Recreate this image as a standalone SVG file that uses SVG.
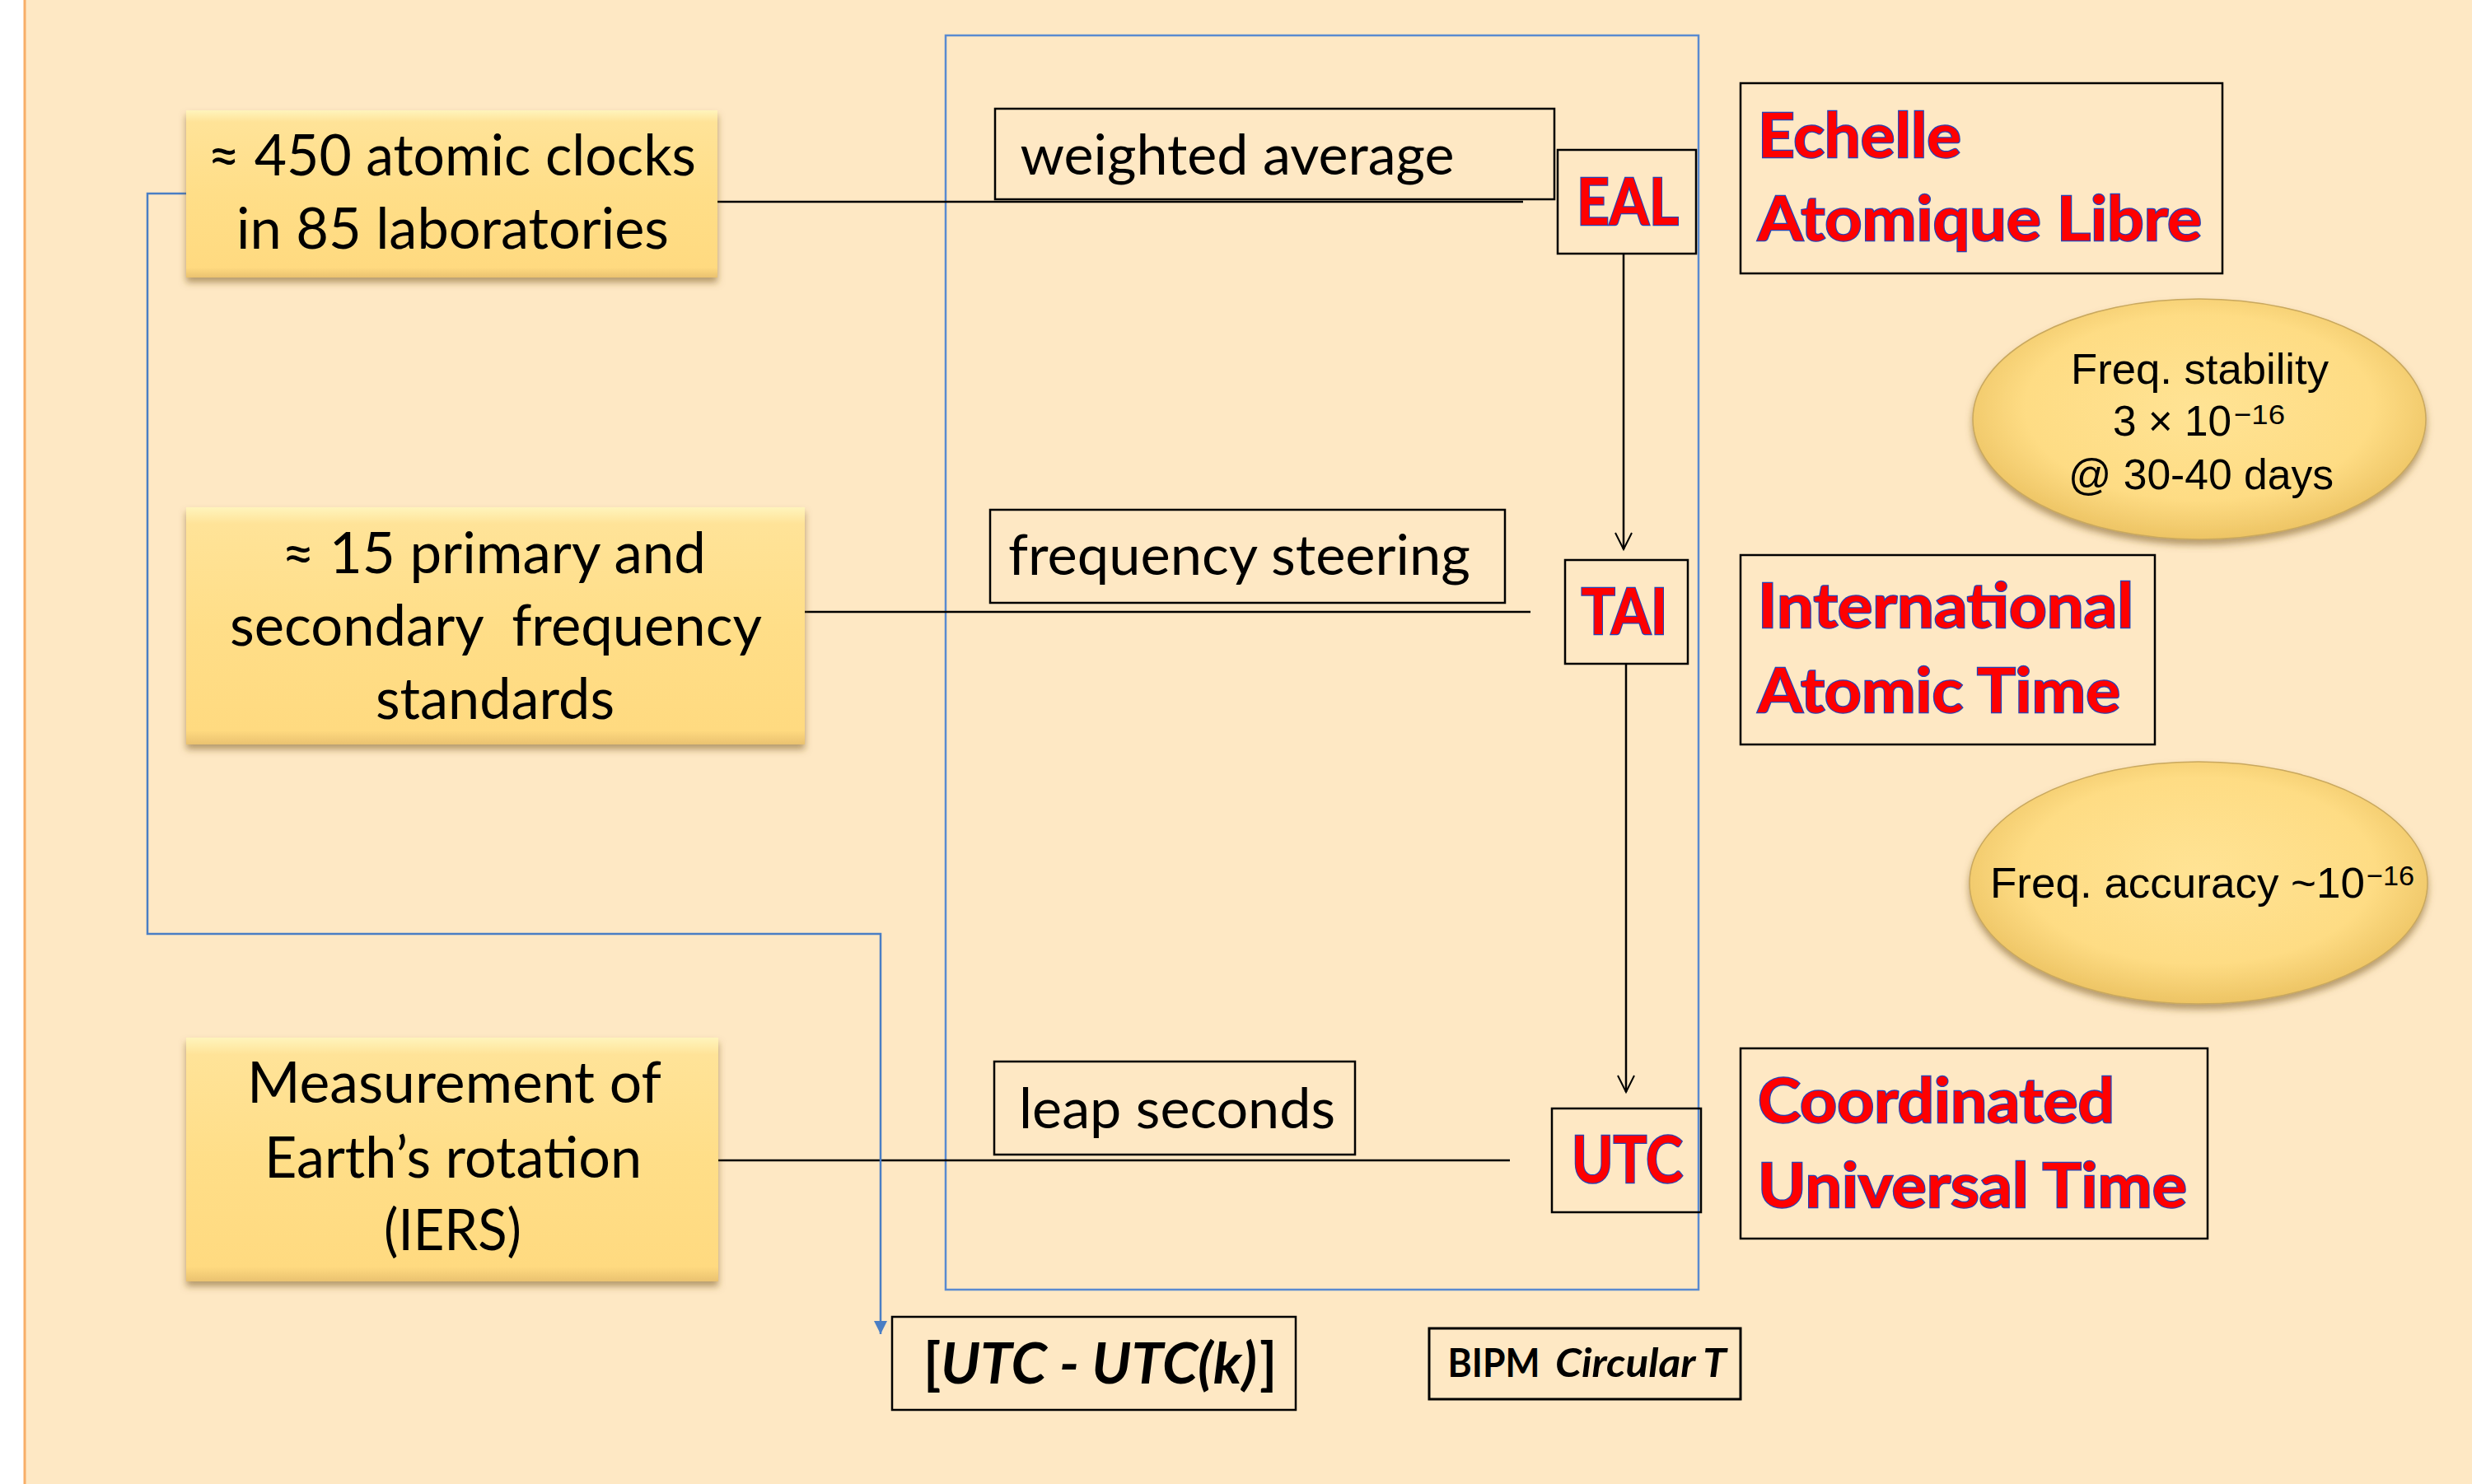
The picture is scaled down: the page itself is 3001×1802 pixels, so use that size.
<svg xmlns="http://www.w3.org/2000/svg" width="3001" height="1802" viewBox="0 0 3001 1802">
<defs>
<style>
.lbl{font-family:Lato,"Liberation Sans",sans-serif;fill:#000;}
.box{font-size:70px;}
.step{font-size:68px;}
.red{font-family:Lato,"Liberation Sans",sans-serif;font-weight:bold;fill:#FF0000;stroke:#2443B8;stroke-width:2.5;paint-order:stroke;}
.ell{font-family:"Liberation Sans",Arial,sans-serif;font-size:52px;fill:#000;}
.sup{font-family:"Liberation Sans",Arial,sans-serif;font-size:34px;fill:#000;}
.frame{fill:none;stroke:#000;stroke-width:2.5;}
.conn{fill:none;stroke:#000;stroke-width:2.5;}
.blue{fill:none;stroke:#4A7EC4;stroke-width:2.5;}
.ybox{fill:url(#yg);filter:url(#sh);}
</style>
<linearGradient id="yg" x1="0" y1="0" x2="0" y2="1">
<stop offset="0" stop-color="#FFF4BC"/>
<stop offset="0.07" stop-color="#FFE398"/>
<stop offset="0.5" stop-color="#FFDE88"/>
<stop offset="0.94" stop-color="#FFDA80"/>
<stop offset="1" stop-color="#EAC270"/>
</linearGradient>
<radialGradient id="eg" cx="0.5" cy="0.45" r="0.55">
<stop offset="0" stop-color="#FFE394"/>
<stop offset="0.7" stop-color="#FEDC84"/>
<stop offset="1" stop-color="#EDC464"/>
</radialGradient>
<filter id="sh" x="-10%" y="-10%" width="120%" height="130%">
<feDropShadow dx="0" dy="6" stdDeviation="4" flood-color="#7A5A20" flood-opacity="0.55"/>
</filter>
<marker id="open" markerUnits="userSpaceOnUse" markerWidth="24" markerHeight="24" refX="20" refY="12" orient="auto" overflow="visible">
<path d="M0,2 L20,12 L0,22" fill="none" stroke="#000" stroke-width="2"/>
</marker>
<marker id="bfill" markerUnits="userSpaceOnUse" markerWidth="18" markerHeight="18" refX="16" refY="8" orient="auto" overflow="visible">
<path d="M0,0 L16,8 L0,16 z" fill="#4A7EC4"/>
</marker>
</defs>

<rect x="0" y="0" width="3001" height="1802" fill="#FFFFFF"/>
<rect x="30" y="0" width="2971" height="1802" fill="#FEE8C4"/>
<line x1="30" y1="0" x2="30" y2="1802" stroke="#F7AE68" stroke-width="3"/>

<g id="bipm-container">
<rect x="1148" y="43" width="914" height="1523" fill="none" stroke="#5A8AD0" stroke-width="2.5"/>
</g>

<g id="connectors">
<path class="conn" d="M871,245 H1849"/>
<path class="conn" d="M977,743 H1858"/>
<path class="conn" d="M872,1409 H1833"/>
<path class="conn" d="M1971,308 V667" marker-end="url(#open)"/>
<path class="conn" d="M1974,806 V1326" marker-end="url(#open)"/>
<path class="blue" d="M226,235 H179 V1134 H1069 V1620" marker-end="url(#bfill)"/>
</g>

<g id="atomic-clocks">
<rect class="ybox" x="226" y="134" width="645" height="203"/>
<text class="lbl box" x="548.5" y="213" text-anchor="middle" textLength="593" lengthAdjust="spacingAndGlyphs">≈ 450 atomic clocks</text>
<text class="lbl box" x="549.5" y="302" text-anchor="middle" textLength="525" lengthAdjust="spacingAndGlyphs">in 85 laboratories</text>
</g>

<g id="frequency-standards">
<rect class="ybox" x="226" y="616" width="751" height="288"/>
<text class="lbl box" x="599.5" y="696" text-anchor="middle" textLength="515" lengthAdjust="spacingAndGlyphs">≈ 15 primary and</text>
<text class="lbl box" x="602" y="784" text-anchor="middle" textLength="646" lengthAdjust="spacingAndGlyphs" xml:space="preserve">secondary  frequency</text>
<text class="lbl box" x="601" y="873" text-anchor="middle" textLength="290" lengthAdjust="spacingAndGlyphs">standards</text>
</g>

<g id="earth-rotation">
<rect class="ybox" x="226" y="1260" width="646" height="296"/>
<text class="lbl box" x="551.5" y="1339" text-anchor="middle" textLength="503" lengthAdjust="spacingAndGlyphs">Measurement of</text>
<text class="lbl box" x="550" y="1430" text-anchor="middle" textLength="458" lengthAdjust="spacingAndGlyphs">Earth’s rotation</text>
<text class="lbl box" x="549.5" y="1518" text-anchor="middle" textLength="167" lengthAdjust="spacingAndGlyphs">(IERS)</text>
</g>

<g id="weighted-average">
<rect class="frame" x="1208" y="132" width="679" height="110"/>
<text class="lbl step" x="1238.5" y="212" textLength="527" lengthAdjust="spacingAndGlyphs">weighted average</text>
</g>

<g id="frequency-steering">
<rect class="frame" x="1202" y="619" width="625" height="113"/>
<text class="lbl step" x="1224" y="698" textLength="561" lengthAdjust="spacingAndGlyphs">frequency steering</text>
</g>

<g id="leap-seconds">
<rect class="frame" x="1207" y="1289" width="438" height="113"/>
<text class="lbl step" x="1237" y="1370" textLength="384" lengthAdjust="spacingAndGlyphs">leap seconds</text>
</g>

<g id="eal">
<rect class="frame" x="1891" y="182" width="168" height="126"/>
<text class="red" x="1914" y="273" font-size="78" textLength="124" lengthAdjust="spacingAndGlyphs">EAL</text>
</g>

<g id="tai">
<rect class="frame" x="1900" y="680" width="149" height="126"/>
<text class="red" x="1919.5" y="770" font-size="77" textLength="105" lengthAdjust="spacingAndGlyphs">TAI</text>
</g>

<g id="utc">
<rect class="frame" x="1884" y="1346" width="181" height="126"/>
<text class="red" x="1908" y="1436" font-size="78" textLength="135" lengthAdjust="spacingAndGlyphs">UTC</text>
</g>

<g id="eal-name">
<rect class="frame" x="2113" y="101" width="585" height="231"/>
<text class="red" x="2134" y="191" font-size="75" textLength="247" lengthAdjust="spacingAndGlyphs">Echelle</text>
<text class="red" x="2134" y="292" font-size="75" textLength="539" lengthAdjust="spacingAndGlyphs">Atomique Libre</text>
</g>

<g id="tai-name">
<rect class="frame" x="2113" y="674" width="503" height="230"/>
<text class="red" x="2134" y="762" font-size="75" textLength="456" lengthAdjust="spacingAndGlyphs">International</text>
<text class="red" x="2134" y="865" font-size="75" textLength="440" lengthAdjust="spacingAndGlyphs">Atomic Time</text>
</g>

<g id="utc-name">
<rect class="frame" x="2113" y="1273" width="567" height="231"/>
<text class="red" x="2134" y="1363" font-size="75" textLength="433" lengthAdjust="spacingAndGlyphs">Coordinated</text>
<text class="red" x="2134" y="1466" font-size="75" textLength="521" lengthAdjust="spacingAndGlyphs">Universal Time</text>
</g>

<g id="freq-stability">
<ellipse cx="2670" cy="509" rx="275" ry="146" fill="url(#eg)" stroke="#C9A85E" stroke-width="1.5" filter="url(#sh)"/>
<text class="ell" x="2514" y="466" textLength="313" lengthAdjust="spacingAndGlyphs">Freq. stability</text>
<text class="ell" x="2565" y="529" textLength="144" lengthAdjust="spacingAndGlyphs">3 × 10</text>
<text class="sup" x="2712" y="515" textLength="62" lengthAdjust="spacingAndGlyphs">−16</text>
<text class="ell" x="2511" y="594" textLength="322" lengthAdjust="spacingAndGlyphs">@ 30-40 days</text>
</g>

<g id="freq-accuracy">
<ellipse cx="2669" cy="1072" rx="278" ry="147" fill="url(#eg)" stroke="#C9A85E" stroke-width="1.5" filter="url(#sh)"/>
<text class="ell" x="2416" y="1090" textLength="455" lengthAdjust="spacingAndGlyphs">Freq. accuracy ~10</text>
<text class="sup" x="2873" y="1075" textLength="58" lengthAdjust="spacingAndGlyphs">−16</text>
</g>

<g id="utc-utck">
<rect class="frame" x="1083" y="1599" width="490" height="113"/>
<text class="lbl" x="1121" y="1680" font-size="68" font-weight="bold">[</text>
<text class="lbl" x="1142" y="1680" font-size="68" font-weight="bold" font-style="italic" textLength="384" lengthAdjust="spacingAndGlyphs">UTC - UTC(k)</text>
<text class="lbl" x="1529" y="1680" font-size="68" font-weight="bold">]</text>
</g>

<g id="circular-t">
<rect x="1735" y="1613" width="378" height="86" fill="none" stroke="#000" stroke-width="3"/>
<text class="lbl" x="1757.6" y="1672" font-size="47" font-weight="bold" textLength="112" lengthAdjust="spacingAndGlyphs">BIPM</text>
<text class="lbl" x="1888" y="1672" font-size="47" font-weight="bold" font-style="italic" textLength="208" lengthAdjust="spacingAndGlyphs">Circular T</text>
</g>
</svg>
